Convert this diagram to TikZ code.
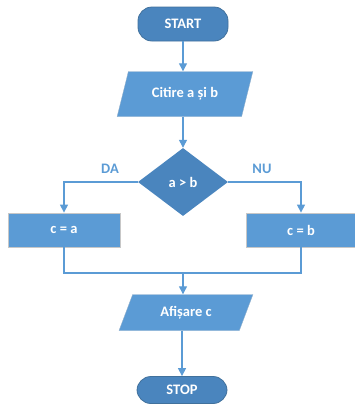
\documentclass[tikz,border=0pt]{standalone}
\usepackage{fontspec}
\setmainfont{Carlito}
\usetikzlibrary{shapes.geometric, arrows.meta}
\definecolor{boxblue}{HTML}{5B9BD5}
\definecolor{termblue}{HTML}{4A85BE}
\definecolor{termline}{HTML}{41719C}
\tikzset{
    base/.style={text=white, font=\fontsize{14.5}{17}\selectfont\bfseries, inner sep=0pt},
    terminal/.style={base, fill=termblue, draw=termline, line width=0.8pt, rounded corners=14pt, minimum width=90pt},
    io/.style={base, trapezium, trapezium left angle=63, trapezium right angle=117, trapezium stretches=true, fill=boxblue, draw=boxblue!80!black!60, line width=0.4pt},
    process/.style={base, rectangle, fill=boxblue, draw=black!22, line width=0.8pt, minimum height=34pt},
    decision/.style={base, diamond, fill=termblue, minimum width=90pt, minimum height=68pt},
    flow/.style={draw=boxblue, line width=1.3pt},
    arrow/.style={flow, -{Triangle[length=8pt, width=8pt]}},
    branch/.style={text=boxblue, font=\fontsize{14.5}{17}\selectfont\bfseries}
}
\begin{document}
\begin{tikzpicture}[x=1pt, y=-1pt]
    \useasboundingbox (0,0) rectangle (355,408);
    
    \node[terminal, minimum height=34pt] (start) at (183,24) {START};
    \node[io, minimum width=136pt, minimum height=45pt] (read) at (185,94) {Citire a și b};
    \node[decision] (cond) at (183,182) {a > b};
    \node[process, minimum width=112pt] (ca) at (64,230) {c = a};
    \node[process, minimum width=110pt] (cb) at (301,230) {c = b};
    \node[io, minimum width=134pt, minimum height=36pt] (show) at (186,312.5) {Afișare c};
    \node[terminal, minimum height=27pt] (stop) at (182,390) {STOP};
    
    \coordinate (join) at (183,273);
    
    \node[branch] (yes) at (110,169) {DA};
    \node[branch] (no) at (262,169) {NU};
    
    \draw[arrow] (start) -- (start |- read.north);
    \draw[arrow] (read.south -| cond) -- (cond.north);
    \draw[arrow] (cond.west) -| (ca.north);
    \draw[arrow] (cond.east) -| (cb.north);
    \draw[flow] (ca.south) |- (join) -| (cb.south);
    \draw[arrow] (join) -- (join |- show.north);
    \draw[arrow] (show.south -| stop) -- (stop.north);
    
\end{tikzpicture}
\end{document}
